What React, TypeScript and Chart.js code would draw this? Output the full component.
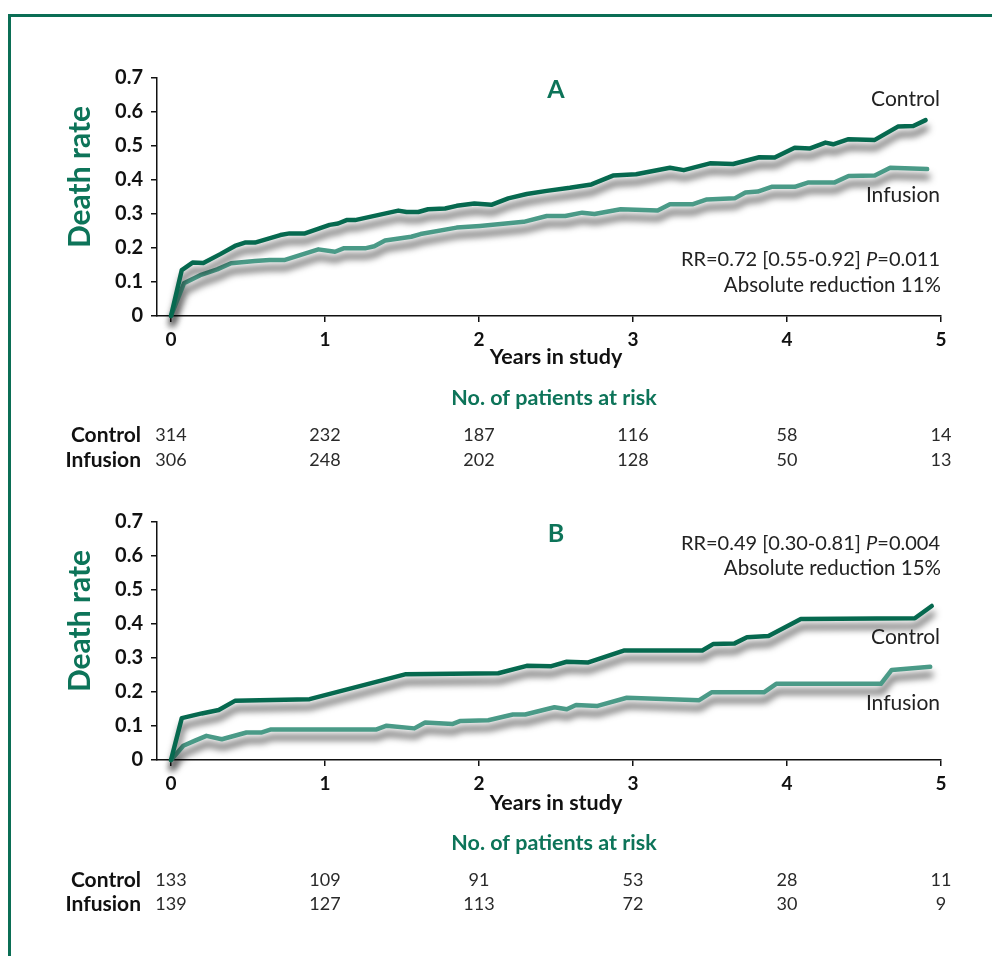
import React, { useEffect, useRef } from 'react';
import { Chart, registerables } from 'chart.js';

Chart.register(...registerables);

// ---------- data ----------
const yearTicks = [0, 1, 2, 3, 4, 5];

const aControlYears = [0, 0.07, 0.14, 0.21, 0.32, 0.415, 0.48, 0.545, 0.71, 0.77, 0.87, 1.03, 1.085, 1.14, 1.195, 1.476, 1.53, 1.606, 1.67, 1.78, 1.855, 1.97, 2.08, 2.19, 2.31, 2.44, 2.59, 2.73, 2.87, 3.02, 3.24, 3.33, 3.5, 3.65, 3.82, 3.92, 4.05, 4.15, 4.25, 4.3, 4.4, 4.57, 4.72, 4.82, 4.9];
const aControlRate = [0, 0.135, 0.157, 0.156, 0.182, 0.206, 0.216, 0.216, 0.238, 0.243, 0.243, 0.268, 0.272, 0.282, 0.282, 0.31, 0.306, 0.306, 0.314, 0.316, 0.324, 0.331, 0.327, 0.346, 0.359, 0.368, 0.377, 0.387, 0.413, 0.417, 0.436, 0.429, 0.449, 0.447, 0.467, 0.466, 0.495, 0.493, 0.51, 0.505, 0.52, 0.518, 0.557, 0.559, 0.576];

const aInfusionYears = [0, 0.084, 0.19, 0.3, 0.39, 0.545, 0.64, 0.74, 0.957, 1.065, 1.12, 1.26, 1.32, 1.39, 1.56, 1.62, 1.855, 2.006, 2.29, 2.44, 2.56, 2.67, 2.75, 2.92, 3.16, 3.24, 3.39, 3.48, 3.66, 3.73, 3.81, 3.9, 4.05, 4.14, 4.31, 4.4, 4.57, 4.67, 4.91];
const aInfusionRate = [0, 0.096, 0.12, 0.137, 0.155, 0.162, 0.165, 0.165, 0.196, 0.189, 0.199, 0.199, 0.205, 0.222, 0.233, 0.241, 0.26, 0.265, 0.277, 0.294, 0.294, 0.304, 0.3, 0.314, 0.31, 0.329, 0.329, 0.343, 0.346, 0.363, 0.366, 0.38, 0.38, 0.393, 0.393, 0.412, 0.413, 0.436, 0.432];

const bControlYears = [0, 0.07, 0.2, 0.31, 0.415, 0.9, 1.52, 2.125, 2.31, 2.47, 2.57, 2.71, 2.94, 3.45, 3.52, 3.66, 3.74, 3.88, 4.09, 4.83, 4.94];
const bControlRate = [0, 0.123, 0.137, 0.147, 0.174, 0.179, 0.252, 0.255, 0.277, 0.276, 0.289, 0.287, 0.322, 0.322, 0.341, 0.343, 0.361, 0.365, 0.415, 0.417, 0.453];

const bInfusionYears = [0, 0.08, 0.156, 0.23, 0.33, 0.49, 0.59, 0.65, 1.335, 1.4, 1.58, 1.65, 1.83, 1.88, 2.06, 2.22, 2.3, 2.49, 2.57, 2.63, 2.77, 2.96, 3.43, 3.51, 3.85, 3.93, 4.61, 4.68, 4.93];
const bInfusionRate = [0, 0.042, 0.057, 0.071, 0.061, 0.081, 0.081, 0.09, 0.09, 0.101, 0.093, 0.11, 0.106, 0.115, 0.117, 0.134, 0.134, 0.155, 0.149, 0.162, 0.159, 0.183, 0.176, 0.199, 0.199, 0.224, 0.224, 0.265, 0.274];

const aRiskControl = [314, 232, 187, 116, 58, 14];
const aRiskInfusion = [306, 248, 202, 128, 50, 13];
const bRiskControl = [133, 109, 91, 53, 28, 11];
const bRiskInfusion = [139, 127, 113, 72, 30, 9];

const aStats = ['RR=0.72 [0.55-0.92] ', 'P', '=0.011'];
const aReduction = 'Absolute reduction 11%';
const bStats = ['RR=0.49 [0.30-0.81] ', 'P', '=0.004'];
const bReduction = 'Absolute reduction 15%';

// ---------- style ----------
const CONTROL_COLOR = '#06694f';
const INFUSION_COLOR = '#4a9a87';
const TEAL = '#0d7459';
const INK = '#111111';
const TEXT = '#222222';
const SANS = 'Lato, "Open Sans", sans-serif';
const X_MIN = -14 / 154;

type PanelProps = {
  top: number;
  height: number;
  areaTop: number;
  letter: string;
  ctlX: number[];
  ctlY: number[];
  infX: number[];
  infY: number[];
  riskC: number[];
  riskI: number[];
  stats: string[];
  reduction: string;
  pos: {
    title: number; letter: number; control: number; infusion: number;
    stats: number; reduction: number; years: number; header: number; rowC: number; rowI: number;
  };
};

const shadowPlugin = {
  id: 'lineShadow',
  beforeDatasetDraw(chart: any) {
    const ctx = chart.ctx;
    ctx.save();
    ctx.shadowColor = 'rgba(0,0,0,0.7)';
    ctx.shadowBlur = 7;
    ctx.shadowOffsetX = 1;
    ctx.shadowOffsetY = 8;
  },
  afterDatasetDraw(chart: any) {
    chart.ctx.restore();
  },
};

function Panel(p: PanelProps) {
  const ref = useRef<HTMLCanvasElement>(null);
  useEffect(() => {
    const areaBottom = p.areaTop + 238;
    const textPlugin = {
      id: 'panelText',
      afterDraw(chart: any) {
        const ctx = chart.ctx as CanvasRenderingContext2D;
        const xs = chart.scales.x;
        ctx.save();
        ctx.textBaseline = 'middle';
        // y title
        ctx.save();
        ctx.translate(80, p.pos.title);
        ctx.rotate(-Math.PI / 2);
        ctx.fillStyle = TEAL;
        ctx.font = `bold 30px ${SANS}`;
        ctx.textAlign = 'center';
        ctx.fillText('Death rate', 0, 0);
        ctx.restore();
        // panel letter
        ctx.fillStyle = TEAL;
        ctx.font = `bold 25px ${SANS}`;
        ctx.textAlign = 'center';
        ctx.fillText(p.letter, 556, p.pos.letter);
        // series labels
        ctx.fillStyle = TEXT;
        ctx.font = `21px ${SANS}`;
        ctx.textAlign = 'right';
        ctx.fillText('Control', 940, p.pos.control);
        ctx.fillText('Infusion', 940, p.pos.infusion);
        // stats line with italic P
        const fonts = [`20px ${SANS}`, `italic 20px ${SANS}`, `20px ${SANS}`];
        let total = 0;
        const widths = p.stats.map((s, i) => { ctx.font = fonts[i]; const w = ctx.measureText(s).width; total += w; return w; });
        let cx = 940 - total;
        ctx.textAlign = 'left';
        p.stats.forEach((s, i) => { ctx.font = fonts[i]; ctx.fillText(s, cx, p.pos.stats); cx += widths[i]; });
        ctx.textAlign = 'right';
        ctx.font = `20.5px ${SANS}`;
        ctx.fillText(p.reduction, 941, p.pos.reduction);
        // x title
        ctx.fillStyle = INK;
        ctx.font = `bold 21.5px ${SANS}`;
        ctx.textAlign = 'center';
        ctx.fillText('Years in study', 556, p.pos.years);
        // risk table
        ctx.fillStyle = TEAL;
        ctx.font = `bold 21.5px ${SANS}`;
        ctx.fillText('No. of patients at risk', 554, p.pos.header);
        ctx.fillStyle = INK;
        ctx.textAlign = 'right';
        ctx.font = `bold 21px ${SANS}`;
        ctx.fillText('Control', 141, p.pos.rowC);
        ctx.fillText('Infusion', 141, p.pos.rowI);
        ctx.fillStyle = '#2a2a2a';
        ctx.font = `18px ${SANS}`;
        ctx.textAlign = 'center';
        yearTicks.forEach((yr, i) => {
          const px = xs.getPixelForValue(yr);
          ctx.fillText(String(p.riskC[i]), px, p.pos.rowC);
          ctx.fillText(String(p.riskI[i]), px, p.pos.rowI);
        });
        ctx.restore();
      },
    };

    const chart = new Chart(ref.current as HTMLCanvasElement, {
      type: 'line',
      data: {
        datasets: [
          {
            label: 'Control',
            data: p.ctlX.map((x, i) => ({ x, y: p.ctlY[i] })),
            borderColor: CONTROL_COLOR,
            borderWidth: 4.5,
            pointRadius: 0,
            tension: 0,
            clip: false as any,
            borderJoinStyle: 'round',
            borderCapStyle: 'round',
          },
          {
            label: 'Infusion',
            data: p.infX.map((x, i) => ({ x, y: p.infY[i] })),
            borderColor: INFUSION_COLOR,
            borderWidth: 4.5,
            pointRadius: 0,
            tension: 0,
            clip: false as any,
            borderJoinStyle: 'round',
            borderCapStyle: 'round',
          },
        ],
      },
      options: {
        responsive: false,
        animation: false,
        layout: { padding: { top: p.areaTop, left: 0, right: 51, bottom: p.height - areaBottom - 50 } },
        plugins: { legend: { display: false }, tooltip: { enabled: false } },
        scales: {
          x: {
            type: 'linear',
            min: X_MIN,
            max: 5,
            afterFit: (s: any) => { s.height = 50; },
            ticks: { stepSize: 1, includeBounds: false, color: INK, font: { family: SANS, size: 19, weight: 'bold' }, padding: 6, maxRotation: 0, autoSkip: false },
            grid: { drawOnChartArea: false, drawTicks: true, tickLength: 6, color: INK, lineWidth: 1.5 },
            border: { color: INK, width: 1.5 },
          },
          y: {
            min: 0,
            max: 0.7,
            afterFit: (s: any) => { s.width = 157; },
            ticks: {
              stepSize: 0.1,
              color: INK,
              font: { family: SANS, size: 20, weight: 'bold' },
              padding: 8,
              callback: (v: any) => (Math.abs(v) < 1e-9 ? '0' : Number(v).toFixed(1)),
            },
            grid: { drawOnChartArea: false, drawTicks: true, tickLength: 6, color: INK, lineWidth: 1.5 },
            border: { color: INK, width: 1.5 },
          },
        },
      } as any,
      plugins: [shadowPlugin, textPlugin],
    });
    return () => chart.destroy();
  }, []);
  return (
    <canvas
      ref={ref}
      width={992}
      height={p.height}
      style={{ position: 'absolute', left: 0, top: p.top, width: 992, height: p.height }}
    />
  );
}

export default function App() {
  return (
    <div style={{ position: 'fixed', left: 0, top: 0, width: 992, height: 956, overflow: 'hidden', background: '#fff' }}>
      <div style={{ position: 'absolute', left: 8, top: 14, width: 1100, height: 1100, border: '3px solid #0b6e55', boxSizing: 'border-box' }} />
      <Panel
        top={0}
        height={480}
        areaTop={78}
        letter="A"
        ctlX={aControlYears}
        ctlY={aControlRate}
        infX={aInfusionYears}
        infY={aInfusionRate}
        riskC={aRiskControl}
        riskI={aRiskInfusion}
        stats={aStats}
        reduction={aReduction}
        pos={{ title: 177, letter: 90, control: 99, infusion: 195, stats: 260, reduction: 285, years: 357, header: 398, rowC: 435, rowI: 460 }}
      />
      <Panel
        top={480}
        height={476}
        areaTop={42}
        letter="B"
        ctlX={bControlYears}
        ctlY={bControlRate}
        infX={bInfusionYears}
        infY={bInfusionRate}
        riskC={bRiskControl}
        riskI={bRiskInfusion}
        stats={bStats}
        reduction={bReduction}
        pos={{ title: 141, letter: 54, control: 157, infusion: 223, stats: 64, reduction: 88, years: 323, header: 363, rowC: 400, rowI: 424 }}
      />
    </div>
  );
}
